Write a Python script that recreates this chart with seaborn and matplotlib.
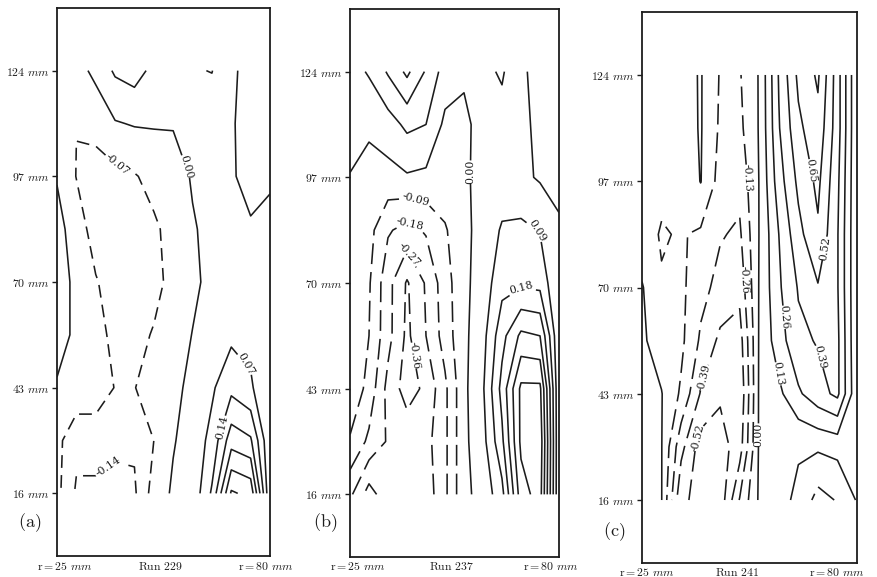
import numpy as np
import matplotlib
matplotlib.use("Agg")
import matplotlib.pyplot as plt
import seaborn as sns

# Measurement grid: radial position r (mm) and height above the bottom (mm)
r_mm = [25, 30, 35, 40, 45, 50, 55, 60, 65, 70, 75, 80]
h_mm = [124, 110.5, 97, 83.5, 70, 56.5, 43, 29.5, 16]

# Field values, one row per height (top to bottom), one column per radius
run229 = [
    [-0.04, -0.03, 0.02, 0.08, 0.10, 0.05, 0.04, 0.065, 0.072, 0.01, -0.02, -0.03],
    [-0.05, -0.069, -0.055, -0.005, 0.005, 0.006, 0.004, 0.03, 0.03, 0.005, -0.02, -0.03],
    [-0.005, -0.072, -0.09, -0.09, -0.075, -0.05, -0.025, 0.005, 0.02, 0.005, -0.015, -0.01],
    [0.025, -0.035, -0.10, -0.11, -0.11, -0.08, -0.05, -0.005, 0.015, 0.02, 0.005, 0.02],
    [0.03, -0.015, -0.065, -0.10, -0.11, -0.09, -0.05, -0.015, 0.02, 0.04, 0.04, 0.02],
    [0.02, -0.01, -0.05, -0.085, -0.09, -0.065, -0.035, 0.002, 0.03, 0.055, 0.05, 0.01],
    [-0.005, -0.02, -0.04, -0.072, -0.072, -0.04, -0.015, 0.015, 0.06, 0.12, 0.08, 0.005],
    [-0.05, -0.12, -0.10, -0.12, -0.13, -0.07, -0.005, 0.03, 0.09, 0.25, 0.22, 0.005],
    [-0.05, -0.15, -0.16, -0.17, -0.15, -0.04, 0.01, 0.02, 0.15, 0.43, 0.40, 0.005],
]
run237 = [
    [0.05, 0.10, 0.19, 0.29, 0.17, 0.05, 0.02, 0.07, 0.10, 0.02, -0.04, -0.05],
    [0.02, 0.01, 0.05, 0.11, 0.09, -0.02, -0.03, 0.05, 0.06, 0.03, -0.03, -0.04],
    [-0.002, -0.02, -0.03, -0.01, -0.02, -0.03, -0.02, 0.04, 0.04, 0.02, -0.01, -0.01],
    [-0.01, -0.06, -0.17, -0.21, -0.17, -0.10, -0.02, 0.03, 0.10, 0.11, 0.085, 0.005],
    [-0.02, -0.08, -0.24, -0.37, -0.26, -0.13, -0.02, 0.04, 0.15, 0.16, 0.15, 0.005],
    [-0.03, -0.09, -0.24, -0.38, -0.27, -0.14, -0.02, 0.06, 0.24, 0.38, 0.36, 0.005],
    [-0.02, -0.12, -0.30, -0.40, -0.34, -0.20, -0.02, 0.08, 0.30, 0.56, 0.56, 0.005],
    [-0.10, -0.20, -0.28, -0.30, -0.30, -0.20, -0.02, 0.06, 0.25, 0.56, 0.60, 0.005],
    [-0.25, -0.40, -0.30, -0.29, -0.32, -0.20, -0.02, 0.03, 0.15, 0.50, 0.58, 0.005],
]
run241 = [
    [-0.05, -0.06, -0.05, 0.01, -0.14, -0.14, 0.01, 0.40, 0.68, 0.80, 0.45, 0.005],
    [-0.06, -0.08, -0.06, 0.01, -0.15, -0.16, 0.01, 0.38, 0.62, 0.74, 0.45, 0.005],
    [-0.08, -0.10, -0.12, 0.005, -0.18, -0.22, 0.005, 0.33, 0.55, 0.68, 0.42, 0.005],
    [-0.08, -0.14, -0.12, -0.15, -0.25, -0.28, 0.005, 0.26, 0.48, 0.63, 0.40, 0.005],
    [0.01, -0.12, -0.10, -0.22, -0.30, -0.35, 0.01, 0.24, 0.40, 0.51, 0.40, 0.005],
    [0.02, -0.06, -0.10, -0.28, -0.42, -0.45, 0.015, 0.20, 0.36, 0.40, 0.42, 0.005],
    [0.03, 0.005, -0.15, -0.40, -0.50, -0.50, 0.02, 0.10, 0.24, 0.34, 0.42, 0.02],
    [0.04, 0.005, -0.35, -0.58, -0.58, -0.45, 0.02, 0.04, 0.01, 0.02, 0.04, 0.01],
    [0.05, 0.005, -0.50, -0.55, -0.60, -0.25, 0.02, 0.03, -0.02, -0.18, -0.12, 0.01],
]

levels229 = [-0.14, -0.07, 0.00, 0.07, 0.14, 0.21, 0.28, 0.35, 0.42]
levels237 = [-0.36, -0.27, -0.18, -0.09, 0.00, 0.09, 0.18, 0.27, 0.36, 0.45, 0.54]
levels241 = [-0.52, -0.39, -0.26, -0.13, 0.00, 0.13, 0.26, 0.39, 0.52, 0.65, 0.78]

height_ticks = [16, 43, 70, 97, 124]
run_names = ["Run 229", "Run 237", "Run 241"]
panel_tags = ["(a)", "(b)", "(c)"]

# Where the level labels sit along their contours (r, h)
label_spots229 = [(60.3, 99.9), (40.0, 99.4), (75.0, 49.6), (67.3, 33.0), (40.8, 20.7)]
label_spots237 = [(58.8, 98.3), (42.7, 92.5), (41.4, 85.6), (43.0, 78.0),
                  (73.9, 83.1), (68.6, 70.0), (41.4, 51.4)]
label_spots241 = [(52.0, 97.9), (68.5, 99.7), (69.8, 80.2), (49.3, 71.8), (60.8, 62.4),
                  (70.0, 52.3), (61.0, 48.2), (44.4, 46.4), (55.7, 32.5), (42.4, 31.2)]

sns.set_theme(style="white")
plt.rcParams["mathtext.fontset"] = "cm"
plt.rcParams["font.family"] = ["DejaVu Serif"]
plt.rcParams["axes.unicode_minus"] = False

W, H = 878, 577
fig = plt.figure(figsize=(W / 100, H / 100), dpi=100)
fig.patch.set_facecolor("white")

# Panel frames in pixels: left, top, right, bottom
frames = [(57, 8, 270, 556), (350, 9, 559, 557), (642, 12, 857, 563)]
fields = [run229, run237, run241]
level_sets = [levels229, levels237, levels241]
spots = [label_spots229, label_spots237, label_spots241]
dash_patterns = [(0, (8, 4.5)), (0, (13, 5)), (0, (13, 5))]
caption_y = [566, 567, 572]
caption_x = [(65, 160, 266), (358, 451, 551), (647, 737, 837)]
tag_pos = [(30, 523), (325, 523), (614, 532)]

ink = "#1c1c1c"
R, Hh = np.meshgrid(np.array(r_mm, float), np.array(h_mm, float))

for k in range(3):
    l, t, rgt, b = frames[k]
    ax = fig.add_axes([l / W, 1 - b / H, (rgt - l) / W, (b - t) / H])
    ax.set_facecolor("white")
    Z = np.array(fields[k], float)
    lv = level_sets[k]
    styles = [dash_patterns[k] if v < 0 else "solid" for v in lv]
    cs = ax.contour(R, Hh, Z, levels=lv, colors=ink, linewidths=1.15,
                    linestyles=styles)
    txt = ax.clabel(cs, manual=spots[k], inline=True, fmt="%.2f",
                    fontsize=7.8, inline_spacing=3)
    for tx in txt:
        tx.set_fontfamily("DejaVu Serif")
        tx.set_color(ink)

    ax.set_xlim(25, 80)
    ax.set_ylim(0, 140)
    ax.set_xticks([])
    ax.set_yticks(height_ticks)
    ax.set_yticklabels([r"$%d\ \mathit{mm}$" % v for v in height_ticks])
    ax.tick_params(axis="y", direction="out", length=3.5, width=1.0,
                   colors=ink, labelsize=8.5, pad=1.5, left=True)
    for sp in ax.spines.values():
        sp.set_visible(True)
        sp.set_color(ink)
        sp.set_linewidth(1.3)

    cy = 1 - caption_y[k] / H
    x25, xrun, x80 = caption_x[k]
    fig.text(x25 / W, cy, r"$\mathrm{r{=}25}\ \mathit{mm}$", ha="center",
             va="center", fontsize=8.5, color=ink)
    fig.text(xrun / W, cy, r"$\mathrm{%s}$" % run_names[k].replace(" ", r"\ "),
             ha="center", va="center", fontsize=8.5, color=ink)
    fig.text(x80 / W, cy, r"$\mathrm{r{=}80}\ \mathit{mm}$", ha="center",
             va="center", fontsize=8.5, color=ink)
    tx, ty = tag_pos[k]
    fig.text(tx / W, 1 - ty / H, r"$\mathrm{%s}$" % panel_tags[k], ha="center",
             va="center", fontsize=13, color=ink)

fig.savefig("out.png", dpi=100, facecolor="white")
